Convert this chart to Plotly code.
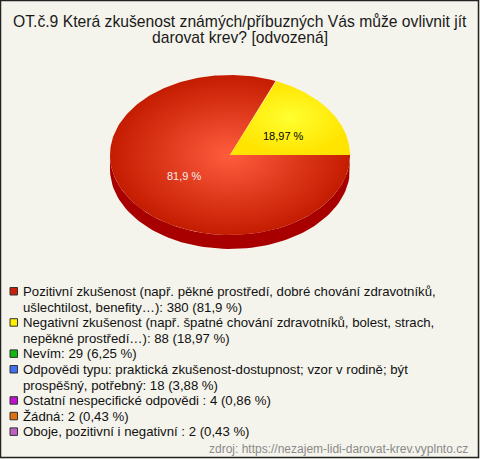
import textwrap
import numpy as np
import plotly.graph_objects as go

# ---------------- data ----------------
title_text = "OT.č.9 Která zkušenost známých/příbuzných Vás může ovlivnit jít darovat krev? [odvozená]"
labels = [
    "Pozitivní zkušenost (např. pěkné prostředí, dobré chování zdravotníků, ušlechtilost, benefity…)",
    "Negativní zkušenost (např. špatné chování zdravotníků, bolest, strach, nepěkné prostředí…)",
    "Nevím",
    "Odpovědi typu: praktická zkušenost-dostupnost; vzor v rodině; být prospěšný, potřebný",
    "Ostatní nespecifické odpovědi ",
    "Žádná",
    "Oboje, pozitivní i negativní ",
]
counts = [380, 88, 29, 18, 4, 2, 2]
percents = [81.9, 18.97, 6.25, 3.88, 0.86, 0.43, 0.43]
colors = ["#c8200a", "#ffee00", "#10b810", "#4070f0", "#c010d0", "#e07010", "#c060c0"]
pie_light = ["#ff5c3e", "#ffff30"]
pie_dark = ["#c41c00", "#ffe400"]
side_colors = ["#a80000", "#d8b800"]
label_font_colors = ["#f4ecec", "#000000"]
pie_count = 2  # slices drawn in the pie
source_text = "zdroj: https://nezajem-lidi-darovat-krev.vyplnto.cz"

# ---------------- layout constants ----------------
W, H = 480, 459
BG = "#f5f4ec"
CX, CY, RX, RY, DEPTH = 230, 155, 120, 80, 14
FONT = "Liberation Sans, Arial, sans-serif"


def fmt(p):
    s = ("%.2f" % p).rstrip("0").rstrip(".")
    return s.replace(".", ",") + " %"


def ell(theta_deg, dy=0.0):
    t = np.radians(theta_deg)
    return CX + RX * np.cos(t), CY - RY * np.sin(t) + dy


fig = go.Figure()

vals = np.array(counts[:pie_count], dtype=float)
fracs = vals / vals.sum()
# slices go clockwise on screen starting at 3 o'clock
ends = 360 - np.cumsum(fracs) * 360
starts = np.concatenate([[360.0], ends[:-1]])

# sides (front half only)
for i in range(pie_count):
    a0, a1 = ends[i], starts[i]  # ccw range [a0, a1]
    lo, hi = max(a0, 180.0), min(a1, 360.0)
    if hi <= lo:
        continue
    th = np.linspace(lo, hi, 80)
    xt, yt = ell(th)
    xb, yb = ell(th[::-1], DEPTH)
    fig.add_trace(go.Scatter(x=np.concatenate([xt, xb]), y=np.concatenate([yt, yb]),
                             mode="lines", fill="toself", fillcolor=side_colors[i],
                             line=dict(width=0), hoverinfo="skip", showlegend=False))

# tops
for i in range(pie_count):
    th = np.linspace(starts[i], ends[i], 200)
    x, y = ell(th)
    x = np.concatenate([[CX], x, [CX]])
    y = np.concatenate([[CY], y, [CY]])
    fig.add_trace(go.Scatter(x=x, y=y, mode="lines", fill="toself",
                             fillgradient=dict(type="radial",
                                               colorscale=[[0, pie_light[i]], [1, pie_dark[i]]]),
                             line=dict(width=0), hoverinfo="skip", showlegend=False))

# slice labels
label_pos = [(0.46, 0.46), (0.54, 0.42)]
for i in range(pie_count):
    mid = (starts[i] + ends[i]) / 2
    t = np.radians(mid)
    lx = CX + RX * label_pos[i][0] * np.cos(t)
    ly = CY - RY * label_pos[i][1] * np.sin(t)
    fig.add_annotation(x=lx, y=ly, text=fmt(percents[i]), showarrow=False,
                       font=dict(family=FONT, size=11, color=label_font_colors[i]))

# title
for j, line in enumerate(textwrap.wrap(title_text, 64)):
    fig.add_annotation(x=W / 2, y=21 + j * 16, text=line, showarrow=False,
                       xanchor="center", yanchor="middle",
                       font=dict(family=FONT, size=15.7, color="#1a1a1a"))

# legend (custom, tight spacing)
y = 291.5
LINE = 15.6
for i, lab in enumerate(labels):
    full = "%s: %d (%s)" % (lab, counts[i], fmt(percents[i]))
    lines = textwrap.wrap(full, 72)
    fig.add_shape(type="rect", x0=10, x1=17.5, y0=y - 4, y1=y + 3.5,
                  fillcolor=colors[i], line=dict(color="#333333", width=1))
    for line in lines:
        fig.add_annotation(x=21, y=y, text=line, showarrow=False, xanchor="left",
                           yanchor="middle", font=dict(family=FONT, size=13.2, color="#111111"))
        y += LINE

fig.add_annotation(x=470, y=449, text=source_text, showarrow=False, xanchor="right",
                   yanchor="middle", font=dict(family=FONT, size=12, color="#8a8a8a"))

# outer border
fig.add_shape(type="rect", x0=0.5, x1=478.5, y0=0.5, y1=457.5,
              line=dict(color="#222222", width=1.5), fillcolor="rgba(0,0,0,0)")

fig.update_layout(
    width=W, height=H, margin=dict(l=0, r=0, t=0, b=0),
    paper_bgcolor=BG, plot_bgcolor=BG,
    xaxis=dict(range=[0, W], visible=False, fixedrange=True),
    yaxis=dict(range=[H, 0], visible=False, fixedrange=True),
    showlegend=False,
)

fig.write_html("out.html", config={"displayModeBar": False},
               post_script="document.body.style.margin='0';document.body.style.overflow='hidden';")
